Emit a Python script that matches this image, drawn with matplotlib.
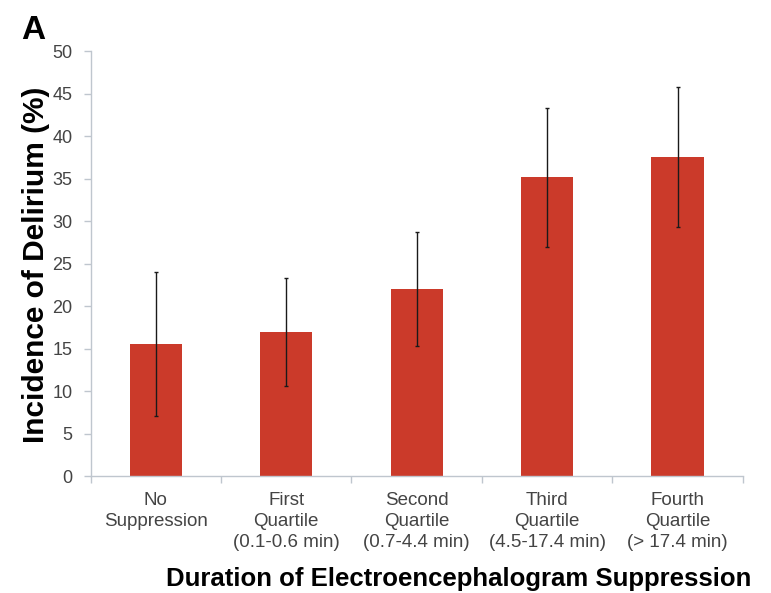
import matplotlib
matplotlib.use("Agg")
import matplotlib.pyplot as plt
import numpy as np

plt.rcParams['font.family'] = ['Liberation Sans', 'DejaVu Sans']

categories = ["No\nSuppression",
              "First\nQuartile\n(0.1-0.6 min)",
              "Second\nQuartile\n(0.7-4.4 min)",
              "Third\nQuartile\n(4.5-17.4 min)",
              "Fourth\nQuartile\n(> 17.4 min)"]
incidence = [15.6, 17.0, 22.1, 35.2, 37.6]
ci_low = [7.1, 10.6, 15.3, 27.0, 29.4]
ci_high = [24.1, 23.4, 28.8, 43.3, 45.8]
y_ticks = [0, 5, 10, 15, 20, 25, 30, 35, 40, 45, 50]

bar_color = "#CB3A2A"
axis_color = "#BFC6CE"
label_gray = "#444444"

fig = plt.figure(figsize=(7.71, 5.93), dpi=100)
ax = fig.add_axes([0.1176, 0.1965, 0.8457, 0.7167])

x = np.arange(len(categories))
yerr = np.array([np.array(incidence) - np.array(ci_low),
                 np.array(ci_high) - np.array(incidence)])
ax.bar(x, incidence, width=0.4, color=bar_color, zorder=2)
ax.errorbar(x, incidence, yerr=yerr, fmt="none", ecolor="#1a1a1a",
            elinewidth=1.0, capsize=1.5, capthick=1.0, zorder=3)

ax.set_xlim(-0.5, len(categories) - 0.5)
ax.set_ylim(0, 50)
ax.set_yticks(y_ticks)
ax.set_xticks(x)
ax.set_xticklabels(categories, fontsize=13.5, color=label_gray, linespacing=1.32)
ax.set_xticks(np.arange(-0.5, len(categories), 1.0), minor=True)
ax.tick_params(axis="x", which="major", length=0, pad=11)
ax.tick_params(axis="x", which="minor", length=5, color=axis_color, width=1)
ax.tick_params(axis="y", length=5, color=axis_color, width=1,
               labelsize=13, labelcolor=label_gray, pad=8)

for side in ("top", "right"):
    ax.spines[side].set_visible(False)
for side in ("left", "bottom"):
    ax.spines[side].set_color(axis_color)
    ax.spines[side].set_linewidth(1)

fig.text(36 / 771, 1 - 265 / 593, "Incidence of Delirium (%)", rotation=90,
         fontsize=21.5, fontweight="bold", color="black",
         ha="center", va="center")
fig.text(458.5 / 771, 1 - 586 / 593,
         "Duration of Electroencephalogram Suppression", fontsize=18.5,
         fontweight="bold", color="black", ha="center", va="baseline")

fig.text(0.028, 0.935, "A", fontsize=24, fontweight="bold", color="black")

fig.savefig("out.png", dpi=100)
